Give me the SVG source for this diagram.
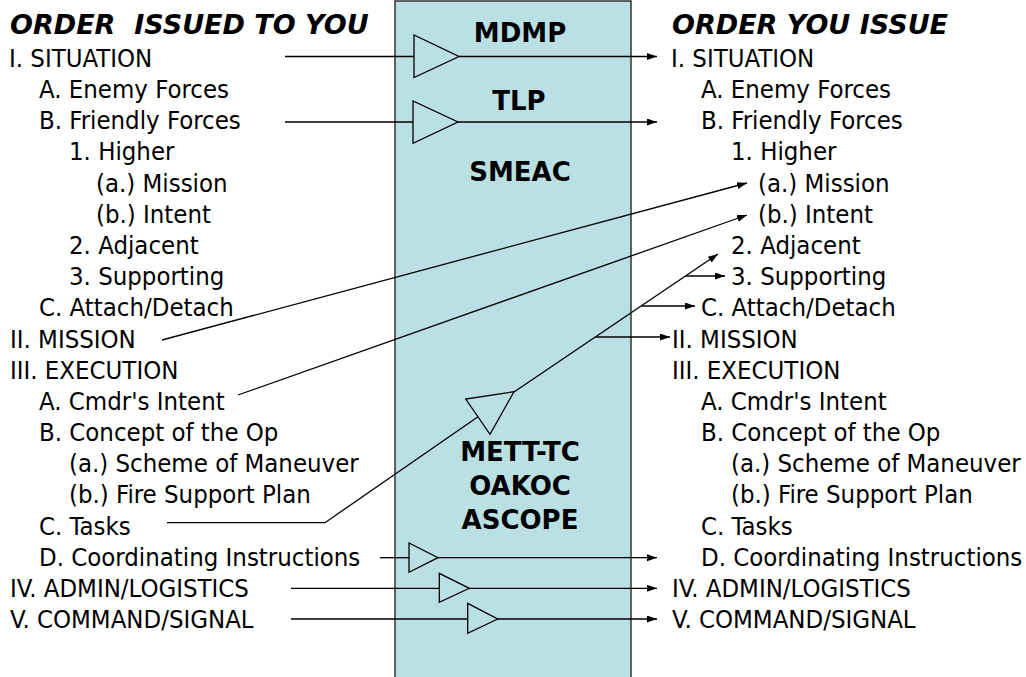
<svg xmlns="http://www.w3.org/2000/svg" width="1026" height="677" viewBox="0 0 1026 677">
  <style>
    .item { font-family: "DejaVu Sans Condensed", "DejaVu Sans", sans-serif; font-stretch: condensed; font-size: 25.5px; fill: #000; }
    .head { font-family: "DejaVu Sans", sans-serif; font-weight: bold; font-style: oblique; font-size: 27px; fill: #000; }
    .tool { font-family: "DejaVu Sans", sans-serif; font-weight: bold; font-size: 26px; fill: #000; text-anchor: middle; }
    .wire { fill: none; stroke: #000; stroke-width: 1.3; }
    .arrow { fill: none; stroke: #000; stroke-width: 1.3; marker-end: url(#head); }
    .buffer { fill: #BBE0E3; stroke: #000; stroke-width: 1.3; }
  </style>
  <defs>
    <marker id="head" markerUnits="userSpaceOnUse" markerWidth="11" markerHeight="8" refX="10" refY="3.5" orient="auto">
      <path d="M0,0 L10,3.5 L0,7 z" fill="#000"/>
    </marker>
  </defs>

  <!-- planning column -->
  <g id="planning-column">
    <rect x="395" y="1" width="236" height="700" fill="#BBE0E3" stroke="#333" stroke-width="1.5"/>
    <text class="tool" x="520" y="42">MDMP</text>
    <text class="tool" x="519" y="110">TLP</text>
    <text class="tool" x="520" y="181">SMEAC</text>
    <text class="tool" x="520" y="461">METT-TC</text>
    <text class="tool" x="520" y="495">OAKOC</text>
    <text class="tool" x="520" y="529">ASCOPE</text>
  </g>

  <!-- order received -->
  <g id="order-received">
    <text class="head" x="10" y="34" xml:space="preserve">ORDER  ISSUED TO YOU</text>
    <text class="item" x="9" y="67">I. SITUATION</text>
    <text class="item" x="39" y="98">A. Enemy Forces</text>
    <text class="item" x="39" y="129">B. Friendly Forces</text>
    <text class="item" x="69" y="160">1. Higher</text>
    <text class="item" x="96" y="192">(a.) Mission</text>
    <text class="item" x="96" y="223">(b.) Intent</text>
    <text class="item" x="69" y="254">2. Adjacent</text>
    <text class="item" x="69" y="285">3. Supporting</text>
    <text class="item" x="39" y="316">C. Attach/Detach</text>
    <text class="item" x="10" y="348">II. MISSION</text>
    <text class="item" x="10" y="379">III. EXECUTION</text>
    <text class="item" x="39" y="410">A. Cmdr's Intent</text>
    <text class="item" x="39" y="441">B. Concept of the Op</text>
    <text class="item" x="69" y="472">(a.) Scheme of Maneuver</text>
    <text class="item" x="69" y="503">(b.) Fire Support Plan</text>
    <text class="item" x="39" y="535">C. Tasks</text>
    <text class="item" x="39" y="566">D. Coordinating Instructions</text>
    <text class="item" x="10" y="597">IV. ADMIN/LOGISTICS</text>
    <text class="item" x="10" y="628">V. COMMAND/SIGNAL</text>
  </g>

  <!-- order issued -->
  <g id="order-issued">
    <text class="head" x="672" y="34">ORDER YOU ISSUE</text>
    <text class="item" x="671" y="67">I. SITUATION</text>
    <text class="item" x="701" y="98">A. Enemy Forces</text>
    <text class="item" x="701" y="129">B. Friendly Forces</text>
    <text class="item" x="731" y="160">1. Higher</text>
    <text class="item" x="758" y="192">(a.) Mission</text>
    <text class="item" x="758" y="223">(b.) Intent</text>
    <text class="item" x="731" y="254">2. Adjacent</text>
    <text class="item" x="731" y="285">3. Supporting</text>
    <text class="item" x="701" y="316">C. Attach/Detach</text>
    <text class="item" x="672" y="348">II. MISSION</text>
    <text class="item" x="672" y="379">III. EXECUTION</text>
    <text class="item" x="701" y="410">A. Cmdr's Intent</text>
    <text class="item" x="701" y="441">B. Concept of the Op</text>
    <text class="item" x="731" y="472">(a.) Scheme of Maneuver</text>
    <text class="item" x="731" y="503">(b.) Fire Support Plan</text>
    <text class="item" x="701" y="535">C. Tasks</text>
    <text class="item" x="701" y="566">D. Coordinating Instructions</text>
    <text class="item" x="672" y="597">IV. ADMIN/LOGISTICS</text>
    <text class="item" x="672" y="628">V. COMMAND/SIGNAL</text>
  </g>

  <!-- connectors -->
  <g id="connectors">
    <line class="wire" x1="285" y1="56.5" x2="414" y2="56.5"/>
    <line class="arrow" x1="459" y1="56.5" x2="657" y2="56.5"/>
    <line class="wire" x1="285" y1="122" x2="413" y2="122"/>
    <line class="arrow" x1="458" y1="122" x2="657" y2="122"/>
    <line class="arrow" x1="162" y1="340" x2="747" y2="183"/>
    <line class="arrow" x1="238" y1="395" x2="747" y2="215"/>
    <polyline class="wire" points="167,522.7 325,522.7 478,416.7"/>
    <line class="arrow" x1="514" y1="392" x2="718" y2="254"/>
    <line class="arrow" x1="685.5" y1="276" x2="725" y2="276"/>
    <line class="arrow" x1="641.7" y1="306" x2="695" y2="306"/>
    <line class="arrow" x1="595.8" y1="337" x2="670" y2="337"/>
    <line class="wire" x1="380" y1="557.7" x2="409" y2="557.7"/>
    <line class="arrow" x1="438" y1="557.7" x2="657" y2="557.7"/>
    <line class="wire" x1="291" y1="588.3" x2="439" y2="588.3"/>
    <line class="arrow" x1="469" y1="588.3" x2="657" y2="588.3"/>
    <line class="wire" x1="291" y1="619" x2="468" y2="619"/>
    <line class="arrow" x1="498" y1="619" x2="657" y2="619"/>
  </g>

  <!-- buffer symbols on the connectors -->
  <g id="buffers">
    <polygon id="buffer-mdmp" class="buffer" points="414,35 414,77.5 459,56.5"/>
    <polygon id="buffer-tlp" class="buffer" points="413,101 413,143.3 458,122"/>
    <polygon id="buffer-tasks" class="buffer" points="465.7,399 490,434.3 514,391.7"/>
    <polygon id="buffer-coord" class="buffer" points="409,543 409,572.3 438,557.7"/>
    <polygon id="buffer-admin" class="buffer" points="439.3,573.3 439.3,602.3 469.3,588.3"/>
    <polygon id="buffer-command" class="buffer" points="467.7,603.3 467.7,633.3 497.7,619"/>
  </g>
</svg>
